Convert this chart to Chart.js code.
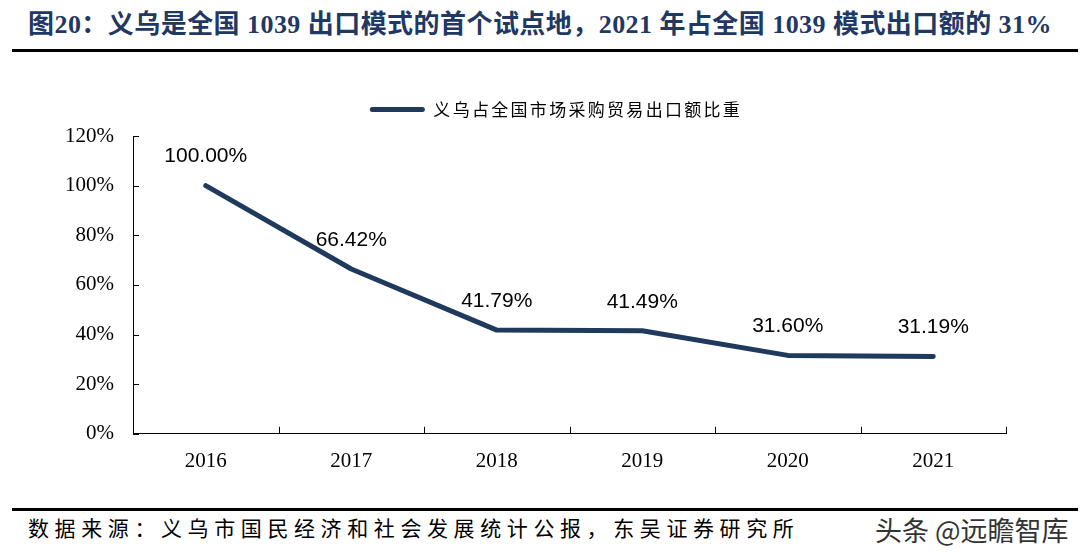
<!DOCTYPE html>
<html>
<head>
<meta charset="utf-8">
<script src="https://cdn.jsdelivr.net/npm/chart.js@4.4.1/dist/chart.umd.min.js"></script>
<style>
  html, body { margin: 0; padding: 0; background: #fff; }
  body { width: 1089px; height: 557px; position: relative; overflow: hidden; }
  #title {
    position: absolute; left: 28px; top: 12px; white-space: nowrap; line-height: 1;
    font-family: "Liberation Serif", "Noto Sans CJK SC", serif; font-weight: bold;
    font-size: 26px; color: #1f3864; letter-spacing: 0.45px;
  }
  .rule { position: absolute; left: 12px; width: 1066px; height: 3px; background: #000; }
  #chartBox { position: absolute; left: 0; top: 60px; width: 1089px; height: 436px; }
  #source {
    position: absolute; left: 28px; top: 519px; white-space: nowrap; line-height: 1;
    font-family: "Liberation Serif", "Noto Sans CJK SC", serif;
    font-size: 21px; color: #000; letter-spacing: 5.6px;
  }
  #mark {
    position: absolute; left: 875px; top: 516px; white-space: nowrap; line-height: 1;
    font-family: "Noto Sans CJK SC", sans-serif; font-size: 27px; color: #333;
  }
</style>
</head>
<body>
<div id="title">图20：义乌是全国 1039 出口模式的首个试点地，2021 年占全国 1039 模式出口额的 31%</div>
<div class="rule" style="top:49px"></div>
<div id="chartBox"><canvas id="mainChart"></canvas></div>
<div class="rule" style="top:508px"></div>
<div id="source">数据来源：义乌市国民经济和社会发展统计公报，东吴证券研究所</div>
<div id="mark">头条 @远瞻智库</div>

<script>
// ==================== DATA ====================
const years = ['2016', '2017', '2018', '2019', '2020', '2021'];
const shareValues = [100.00, 66.42, 41.79, 41.49, 31.60, 31.19];
const yTicks = [0, 20, 40, 60, 80, 100, 120];
const seriesName = '义乌占全国市场采购贸易出口额比重';

const lineColor = '#1f3a5c';
const legendCenterX = 556;   // Legende sitzt im Original etwas links der Mitte
const legendGapBelow = 8;

// ==================== PLUGINS ====================
// Legende mit Zeichenabstand wie im Original
const legendSpacing = {
    id: 'legendSpacing',
    beforeUpdate(chart) {
        const lg = chart.legend;
        if (!lg || lg._spaced) return;
        ['fit', 'draw'].forEach(fn => {
            const orig = lg[fn].bind(lg);
            lg[fn] = function (...args) {
                const c = chart.ctx;
                const prev = c.letterSpacing;
                c.letterSpacing = '2.3px';
                const r = orig(...args);
                c.letterSpacing = prev;
                if (fn === 'fit') lg.height += legendGapBelow;
                return r;
            };
        });
        lg._spaced = true;
    },
    afterLayout(chart) {
        const lg = chart.legend;
        if (!lg) return;
        const shift = legendCenterX - (lg.left + lg.right) / 2;
        lg.left += shift;
        lg.right += shift;
    }
};

// Kleine Striche nach innen, wie im Original
const innerTicks = {
    id: 'innerTicks',
    afterDraw(chart) {
        const { ctx, scales: { x, y }, chartArea } = chart;
        ctx.save();
        ctx.strokeStyle = '#000';
        ctx.lineWidth = 1;
        ctx.beginPath();
        yTicks.forEach(v => {
            const py = Math.round(y.getPixelForValue(v)) + 0.5;
            ctx.moveTo(chartArea.left, py);
            ctx.lineTo(chartArea.left + 6, py);
        });
        for (let i = 0; i <= years.length; i++) {
            const px = Math.round(x.getPixelForValue(i - 0.5)) + 0.5;
            ctx.moveTo(px, chartArea.bottom);
            ctx.lineTo(px, chartArea.bottom - 7);
        }
        ctx.stroke();
        ctx.restore();
    }
};

const valueLabels = {
    id: 'valueLabels',
    afterDatasetsDraw(chart) {
        const { ctx } = chart;
        const meta = chart.getDatasetMeta(0);
        ctx.save();
        ctx.font = '21px "Liberation Sans", Arial, sans-serif';
        ctx.fillStyle = '#000';
        ctx.textAlign = 'center';
        ctx.textBaseline = 'middle';
        meta.data.forEach((pt, i) => {
            ctx.fillText(shareValues[i].toFixed(2) + '%', pt.x, pt.y - 29);
        });
        ctx.restore();
    }
};

// ==================== CHART ====================
const ctx = document.getElementById('mainChart').getContext('2d');
new Chart(ctx, {
    type: 'line',
    data: {
        labels: years,
        datasets: [{
            label: seriesName,
            data: shareValues,
            borderColor: lineColor,
            backgroundColor: lineColor,
            borderWidth: 5,
            pointRadius: 0,
            tension: 0,
            borderCapStyle: 'round',
            borderJoinStyle: 'round'
        }]
    },
    options: {
        responsive: true,
        maintainAspectRatio: false,
        animation: false,
        layout: { padding: { top: 17, right: 83, bottom: 7, left: 0 } },
        plugins: {
            tooltip: { enabled: false },
            legend: {
                display: true,
                labels: {
                    boxWidth: 55,
                    boxHeight: 5,
                    useBorderRadius: true,
                    borderRadius: 2.5,
                    padding: 24,
                    color: '#000',
                    font: { family: '"Noto Sans CJK SC", sans-serif', size: 17 },
                    generateLabels(chart) {
                        return Chart.defaults.plugins.legend.labels.generateLabels(chart).map(l => {
                            l.lineWidth = 0;
                            l.fillStyle = lineColor;
                            return l;
                        });
                    }
                }
            }
        },
        scales: {
            x: {
                offset: true,
                grid: { display: false, drawTicks: false },
                border: { display: true, color: '#000', width: 1 },
                ticks: {
                    color: '#000',
                    padding: 15,
                    font: { family: '"Liberation Serif", serif', size: 21 }
                }
            },
            y: {
                min: 0,
                max: 120,
                afterBuildTicks(scale) {
                    scale.ticks = yTicks.map(v => ({ value: v }));
                },
                afterFit(scale) { scale.width = 133; },
                grid: { display: false, drawTicks: false },
                border: { display: true, color: '#000', width: 1 },
                ticks: {
                    color: '#000',
                    padding: 19,
                    font: { family: '"Liberation Serif", serif', size: 21 },
                    callback: v => v + '%'
                }
            }
        }
    },
    plugins: [legendSpacing, innerTicks, valueLabels]
});
</script>
</body>
</html>
